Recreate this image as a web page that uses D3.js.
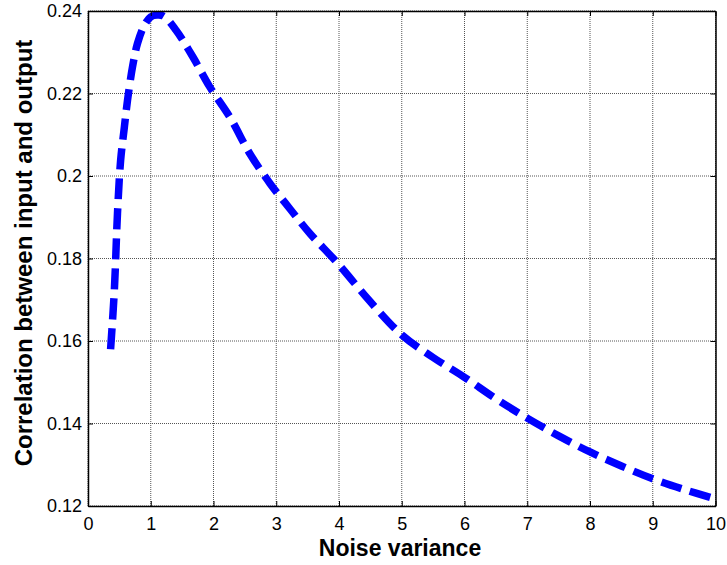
<!DOCTYPE html>
<html><head><meta charset="utf-8">
<script src="https://cdn.jsdelivr.net/npm/d3@7"></script>
<style>
body{margin:0;background:#fff;}
svg{display:block;font-family:"Liberation Sans",Arial,sans-serif;}
</style></head>
<body>
<svg id="chart" width="727" height="565"></svg>
<script>
const noiseVariance = [0.36,0.42,0.47,0.52,0.58,0.63,0.71,0.79,0.9,1.0,1.1,1.2,1.4,1.67,1.94,2.26,2.58,2.9,3.22,3.54,3.97,4.5,5,5.5,6,6.5,7,7.5,8,8.5,9,9.5,10];
const correlation = [0.158,0.1723,0.191,0.2038,0.2119,0.2184,0.2265,0.2322,0.2366,0.2386,0.239,0.2388,0.2354,0.2289,0.2216,0.2143,0.2054,0.1982,0.1920,0.1860,0.1790,0.1695,0.1615,0.156,0.1512,0.146,0.1413,0.137,0.1331,0.1297,0.1266,0.1240,0.1217];
const xTicks = [0,1,2,3,4,5,6,7,8,9,10];
const yTicks = [0.12,0.14,0.16,0.18,0.2,0.22,0.24];
const xLabel = "Noise variance";
const yLabel = "Correlation between input and output";

const svg = d3.select("#chart");
const L = 88, R = 715.5, T = 11, B = 506;
const x = d3.scaleLinear().domain([0,10]).range([L,R]);
const y = d3.scaleLinear().domain([0.12,0.24]).range([B,T]);

// grid
const grid = svg.append("g");
xTicks.forEach(t=>{
  grid.append("line").attr("x1",x(t)).attr("x2",x(t)).attr("y1",T).attr("y2",B)
    .attr("stroke","#555").attr("stroke-width",1).attr("stroke-dasharray","1,1");
});
yTicks.forEach(t=>{
  grid.append("line").attr("x1",L).attr("x2",R).attr("y1",y(t)).attr("y2",y(t))
    .attr("stroke","#555").attr("stroke-width",1).attr("stroke-dasharray","1,1");
});

// curve
const line = d3.line().x((d,i)=>x(noiseVariance[i])).y(d=>y(d)).curve(d3.curveCatmullRom);
svg.append("path").datum(correlation).attr("d",line)
  .attr("fill","none").attr("stroke","#0000ff").attr("stroke-width",7.5)
  .attr("stroke-dasharray","21,9");

// axes (inward ticks)
const fmt = d=>d3.format("~g")(d);
const ax = svg.append("g");
ax.append("g").attr("transform",`translate(0,${B})`)
  .call(d3.axisBottom(x).tickValues(xTicks).tickSizeInner(-5).tickSizeOuter(0).tickPadding(11).tickFormat(fmt));
ax.append("g").attr("transform",`translate(0,${T})`)
  .call(d3.axisTop(x).tickValues(xTicks).tickSizeInner(-5).tickSizeOuter(0).tickFormat(""));
ax.append("g").attr("transform",`translate(${L},0)`)
  .call(d3.axisLeft(y).tickValues(yTicks).tickSizeInner(-5).tickSizeOuter(0).tickPadding(6).tickFormat(fmt));
ax.append("g").attr("transform",`translate(${R},0)`)
  .call(d3.axisRight(y).tickValues(yTicks).tickSizeInner(-5).tickSizeOuter(0).tickFormat(""));
ax.selectAll(".domain").attr("stroke","#000").attr("stroke-width",1.5);
ax.selectAll(".tick line").attr("stroke","#000").attr("stroke-width",1);
ax.selectAll(".tick text").attr("font-size",18).attr("fill","#000")
  .attr("font-family","'Liberation Sans',Arial,sans-serif");

svg.append("text").attr("x",400).attr("y",556).attr("text-anchor","middle")
  .attr("font-size",23).attr("font-weight","bold").text(xLabel);
svg.append("text").attr("transform",`translate(32,253) rotate(-90)`)
  .attr("text-anchor","middle").attr("font-size",24).attr("font-weight","bold").text(yLabel);
</script>
</body></html>
